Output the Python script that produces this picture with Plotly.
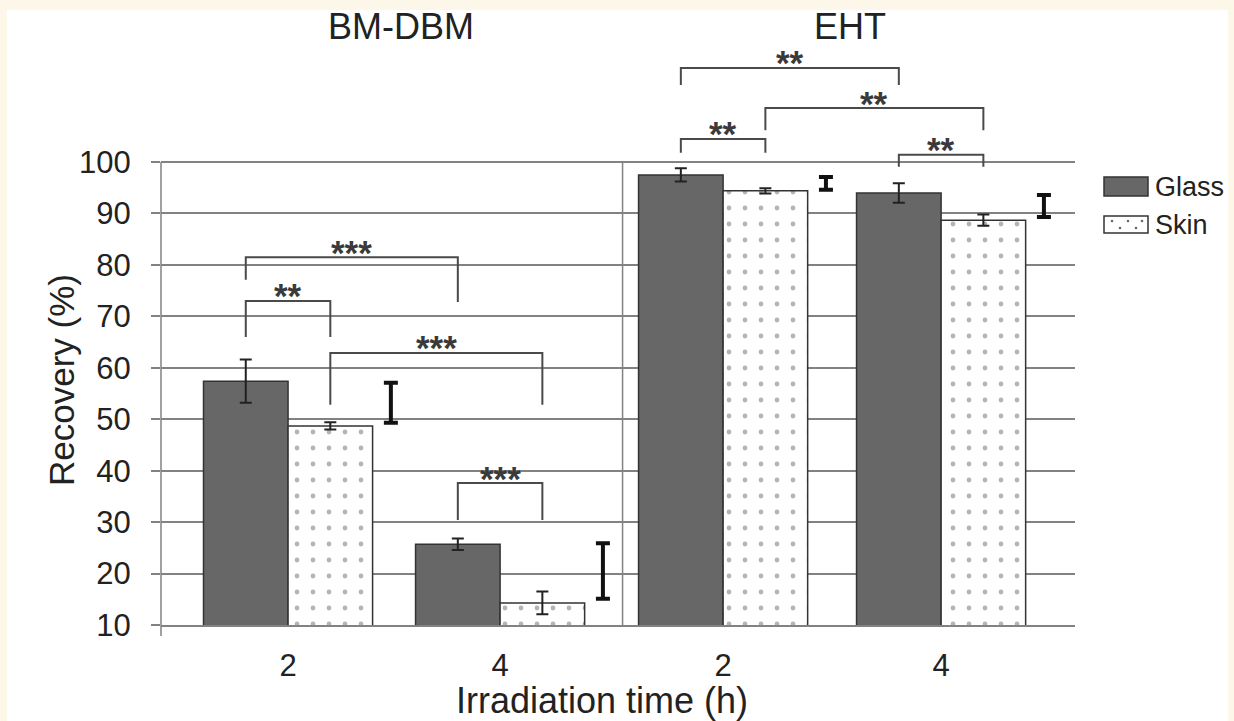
import plotly.graph_objects as go

# ---------------- data ----------------
compounds = ["BM-DBM", "EHT"]
time_labels = ["2", "4", "2", "4"]
series_names = ["Glass", "Skin"]

glass = [57.4, 25.7, 97.5, 94.0]
glass_err = [4.2, 1.1, 1.3, 1.9]
skin = [48.7, 14.3, 94.4, 88.7]
skin_err = [0.7, 2.2, 0.5, 1.1]

# thick stand-alone interval bars (span skin -> glass)
interval_high = [57.1, 25.9, 97.1, 93.6]
interval_low = [49.3, 15.1, 94.6, 89.3]

# significance brackets: (category, series) at each end, top level, leg ends, label
br_left = [(0, "g"), (0, "g"), (0, "s"), (1, "g"), (2, "g"), (2, "s"), (2, "g"), (3, "g")]
br_right = [(0, "s"), (1, "g"), (1, "s"), (1, "s"), (3, "g"), (3, "s"), (2, "s"), (3, "s")]
br_top = [73.0, 81.5, 62.9, 37.6, 118.3, 110.5, 104.5, 101.4]
br_left_end = [66.0, 77.1, 52.8, 30.4, 115.0, 106.2, 101.8, 99.1]
br_right_end = [66.0, 72.8, 52.8, 30.4, 115.0, 106.2, 101.8, 99.1]
br_label = ["**", "***", "***", "***", "**", "**", "**", "**"]

y_ticks = [10, 20, 30, 40, 50, 60, 70, 80, 90, 100]

# ---------------- layout constants ----------------
W, H = 1234, 721
ML, MR, MT, MB = 161, 159, 40, 96
X_RANGE = [0, 4]
Y_MIN = 10
PX_PER_UNIT = 51.44 / 10
Y_MAX = Y_MIN + (H - MT - MB) / PX_PER_UNIT
cat_pos = [0.556, 1.484, 2.460, 3.414]
bar_w = 0.37
interval_offset = 0.45
sep_x = 2.02

GRID = "#828282"
DARK = "#222222"
FONT = "Liberation Sans, Arial, sans-serif"
CREAM = "#fcf7e8"

glass_x = [c - bar_w / 2 for c in cat_pos]
skin_x = [c + bar_w / 2 for c in cat_pos]
pos = {"g": glass_x, "s": skin_x}

fig = go.Figure()

fig.add_trace(go.Bar(
    x=glass_x, y=glass, width=bar_w, name=series_names[0],
    marker=dict(color="#676767", line=dict(color="#333333", width=1.5)),
    error_y=dict(type="data", array=glass_err, color=DARK, thickness=2, width=6),
))
fig.add_trace(go.Bar(
    x=skin_x, y=skin, width=bar_w, name=series_names[1],
    marker=dict(color="white", line=dict(color="#333333", width=1.5),
                pattern=dict(shape=".", fgcolor="#6a6a6a", bgcolor="white",
                             size=16, solidity=0.07)),
    error_y=dict(type="data", array=skin_err, color=DARK, thickness=2, width=6),
))
fig.add_trace(go.Scatter(
    x=[c + interval_offset for c in cat_pos],
    y=[(h + l) / 2 for h, l in zip(interval_high, interval_low)],
    mode="markers", marker=dict(color="rgba(0,0,0,0)", size=2),
    error_y=dict(type="data", array=[(h - l) / 2 for h, l in zip(interval_high, interval_low)],
                 color="#111111", thickness=4, width=7),
    showlegend=False,
))

shapes = []


def px_to_paper_x(px):
    return (px - ML) / (W - ML - MR)


def px_to_paper_y(py):
    return (H - MB - py) / (H - MT - MB)


# white page area inside cream border
shapes.append(dict(type="rect", xref="paper", yref="paper", layer="below",
                   x0=px_to_paper_x(7), x1=px_to_paper_x(1228),
                   y0=px_to_paper_y(740), y1=px_to_paper_y(10),
                   fillcolor="white", line=dict(width=0)))
# y-axis line (only up to 100)
yp100 = (100 - Y_MIN) / (Y_MAX - Y_MIN)
shapes.append(dict(type="line", xref="paper", yref="paper", x0=0, x1=0,
                   y0=px_to_paper_y(636), y1=yp100, line=dict(color=GRID, width=1.5)))
# separator between compounds
shapes.append(dict(type="line", xref="x", yref="y", x0=sep_x, x1=sep_x, y0=Y_MIN, y1=100,
                   line=dict(color=GRID, width=1.5)))

annotations = []
# brackets
for (lc, ls), (rc, rs), top, le, re_, lab in zip(br_left, br_right, br_top, br_left_end, br_right_end, br_label):
    x0 = pos[ls][lc]
    x1 = pos[rs][rc]
    shapes.append(dict(type="path", xref="x", yref="y",
                       path=f"M {x0},{le} L {x0},{top} L {x1},{top} L {x1},{re_}",
                       line=dict(color="#4a4a4a", width=2)))
    annotations.append(dict(x=(x0 + x1) / 2, y=top, xref="x", yref="y", text=f"<b>{lab}</b>",
                            showarrow=False, xanchor="center", yanchor="middle", yshift=5,
                            font=dict(size=35, color="#3a3a3a", family=FONT)))

# compound titles
annotations.append(dict(x=px_to_paper_x(401), y=px_to_paper_y(26), xref="paper", yref="paper",
                        text=compounds[0], showarrow=False, xanchor="center", yanchor="middle",
                        font=dict(size=36, color=DARK, family=FONT)))
annotations.append(dict(x=px_to_paper_x(850), y=px_to_paper_y(26), xref="paper", yref="paper",
                        text=compounds[1], showarrow=False, xanchor="center", yanchor="middle",
                        font=dict(size=36, color=DARK, family=FONT)))
# axis titles
annotations.append(dict(x=px_to_paper_x(602), y=px_to_paper_y(700), xref="paper", yref="paper",
                        text="Irradiation time (h)", showarrow=False, xanchor="center", yanchor="middle",
                        font=dict(size=36, color=DARK, family=FONT)))
annotations.append(dict(x=px_to_paper_x(62), y=px_to_paper_y(380), xref="paper", yref="paper",
                        text="Recovery (%)", showarrow=False, textangle=-90,
                        xanchor="center", yanchor="middle",
                        font=dict(size=35, color=DARK, family=FONT)))

# custom legend
shapes.append(dict(type="rect", xref="paper", yref="paper",
                   x0=px_to_paper_x(1104), x1=px_to_paper_x(1148),
                   y0=px_to_paper_y(196), y1=px_to_paper_y(177),
                   fillcolor="#676767", line=dict(color="#333333", width=1.5)))
shapes.append(dict(type="rect", xref="paper", yref="paper",
                   x0=px_to_paper_x(1104), x1=px_to_paper_x(1148),
                   y0=px_to_paper_y(233), y1=px_to_paper_y(216),
                   fillcolor="white", line=dict(color="#333333", width=1.5)))
for dx, dy in [(1112, 221), (1128, 221), (1120, 228), (1136, 228), (1142, 221)]:
    shapes.append(dict(type="circle", xref="paper", yref="paper",
                       x0=px_to_paper_x(dx - 1.3), x1=px_to_paper_x(dx + 1.3),
                       y0=px_to_paper_y(dy + 1.3), y1=px_to_paper_y(dy - 1.3),
                       fillcolor="#6a6a6a", line=dict(width=0)))
annotations.append(dict(x=px_to_paper_x(1153), y=px_to_paper_y(187), xref="paper", yref="paper",
                        text=series_names[0], showarrow=False, xanchor="left", yanchor="middle",
                        font=dict(size=27, color=DARK, family=FONT)))
annotations.append(dict(x=px_to_paper_x(1153), y=px_to_paper_y(225), xref="paper", yref="paper",
                        text=series_names[1], showarrow=False, xanchor="left", yanchor="middle",
                        font=dict(size=27, color=DARK, family=FONT)))

fig.update_layout(
    width=W, height=H,
    margin=dict(l=ML, r=MR, t=MT, b=MB, pad=0),
    paper_bgcolor=CREAM, plot_bgcolor="rgba(0,0,0,0)",
    barmode="overlay", showlegend=False,
    font=dict(family=FONT, color=DARK),
    shapes=shapes, annotations=annotations,
    xaxis=dict(range=X_RANGE, tickvals=cat_pos, ticktext=time_labels,
               showgrid=False, zeroline=False, showline=True, linecolor=GRID, linewidth=1.5,
               ticks="", tickfont=dict(size=31, color=DARK, family=FONT), ticklabelstandoff=12),
    yaxis=dict(range=[Y_MIN, Y_MAX], tickvals=y_ticks, showgrid=True, gridcolor=GRID, gridwidth=1.5,
               zeroline=False, showline=False, ticks="outside", ticklen=9, tickcolor=GRID,
               tickwidth=1.5, tickfont=dict(size=31, color=DARK, family=FONT),
               ticklabelstandoff=14),
)

fig.write_html("out.html")
